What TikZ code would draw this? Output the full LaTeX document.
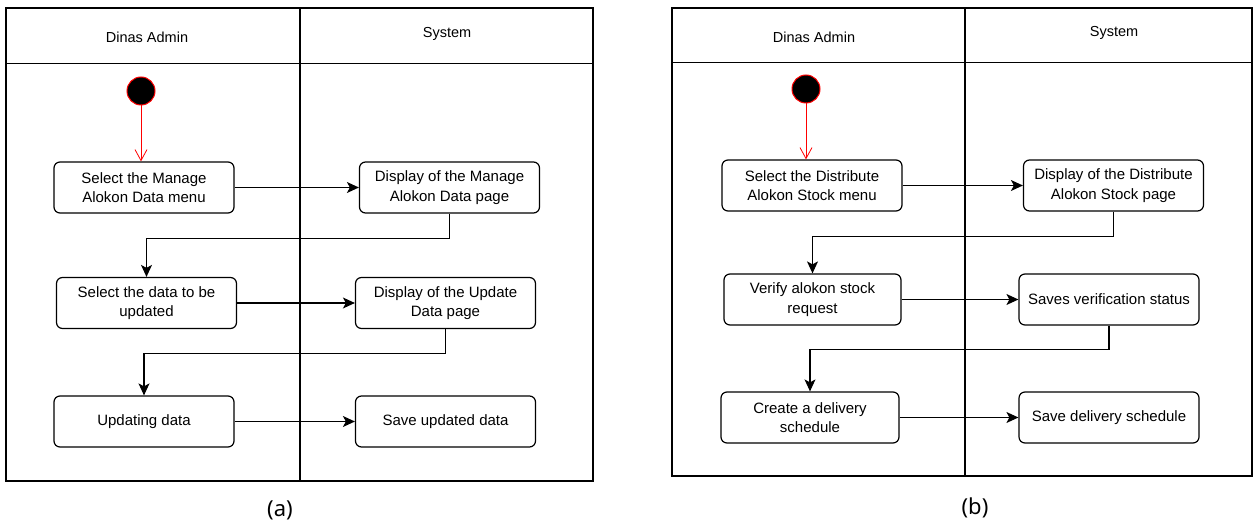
\documentclass[tikz,border=0pt]{standalone}
\usepackage{fontspec}
\setmainfont{Liberation Sans}
\newfontfamily\capfont{Noto Sans}
\usepackage{tikz}
\usetikzlibrary{arrows.meta, positioning, calc}

\begin{document}
\begin{tikzpicture}[x=1pt, y=-1pt,
    lane/.style={draw, line width=1.2pt},
    divider/.style={line width=2.6pt},
    lanehead/.style={font=\fontsize{14.5}{17}\selectfont},
    action/.style={rectangle, draw, rounded corners=6pt, line width=1.2pt, minimum width=180pt, minimum height=51pt, align=center, font=\fontsize{15}{19.5}\selectfont, inner sep=2pt},
    start/.style={circle, draw=red, fill=black, minimum size=28pt, inner sep=0pt, line width=1pt},
    flow/.style={-{Stealth[length=12pt, width=11pt, inset=3pt]}, line width=1.1pt},
    init/.style={-{Straight Barb[length=11pt, width=12pt]}, red, line width=0.8pt},
    caption/.style={font=\capfont\fontsize{22}{26}\selectfont}
]
\useasboundingbox (0,0) rectangle (1253,529);

% Swimlanes (a)
\draw[lane] (6,8) rectangle (593,481);
\draw[line width=1pt] (6,64) -- (593,64);
\draw[divider] (300,8) -- (300,481);
\node[lanehead] (adminA) at (147,37) {Dinas Admin};
\node[lanehead] (sysA) at (447,34) {System};

% Swimlanes (b)
\draw[lane] (672,8) rectangle (1252,476);
\draw[line width=1pt] (672,63) -- (1252,63);
\draw[divider] (965,8) -- (965,476);
\node[lanehead] (adminB) at (814,37) {Dinas Admin};
\node[lanehead] (sysB) at (1114,33) {System};

% Actions (a)
\node[start] (startA) at (141,91) {};
\node[action] (a1) at (144,187.5) {Select the Manage\\Alokon Data menu};
\node[action] (a2) at (449.5,187.5) {Display of the Manage\\Alokon Data page};
\node[action] (a3) at (146.5,303) {Select the data to be\\updated};
\node[action] (a4) at (445.5,303) {Display of the Update\\Data page};
\node[action] (a5) at (144,421.5) {Updating data};
\node[action] (a6) at (445.5,421.5) {Save updated data};

% Actions (b)
\node[start] (startB) at (806,89) {};
\node[action] (b1) at (812,185.5) {Select the Distribute\\Alokon Stock menu};
\node[action] (b2) at (1113.5,185.5) {Display of the Distribute\\Alokon Stock page};
\node[action, minimum width=177pt] (b3) at (812.5,299.5) {Verify alokon stock\\request};
\node[action] (b4) at (1109,299.5) {Saves verification status};
\node[action, minimum width=178pt] (b5) at (810,417.5) {Create a delivery\\schedule};
\node[action] (b6) at (1109,417.5) {Save delivery schedule};

% Flows (a)
\draw[init] (startA) -- (startA |- a1.north);
\draw[flow] (a1) -- (a2);
\draw[flow] (a2.south) -- ++(0,25) -| (a3.north);
\draw[flow] (a3) -- (a4);
\draw[flow] (a4.south) -- ++(0,24) -| (a5.north);
\draw[flow] (a5) -- (a6);

% Flows (b)
\draw[init] (startB) -- (startB |- b1.north);
\draw[flow] (b1) -- (b2);
\draw[flow] (b2.south) -- ++(0,25) -| (b3.north);
\draw[flow] (b3) -- (b4);
\draw[flow] (b4.south) -- ++(0,24) -| (b5.north);
\draw[flow] (b5) -- (b6);

% Captions
\node[caption] (capA) at (280,510) {(a)};
\node[caption] (capB) at (975,508) {(b)};

\end{tikzpicture}
\end{document}
